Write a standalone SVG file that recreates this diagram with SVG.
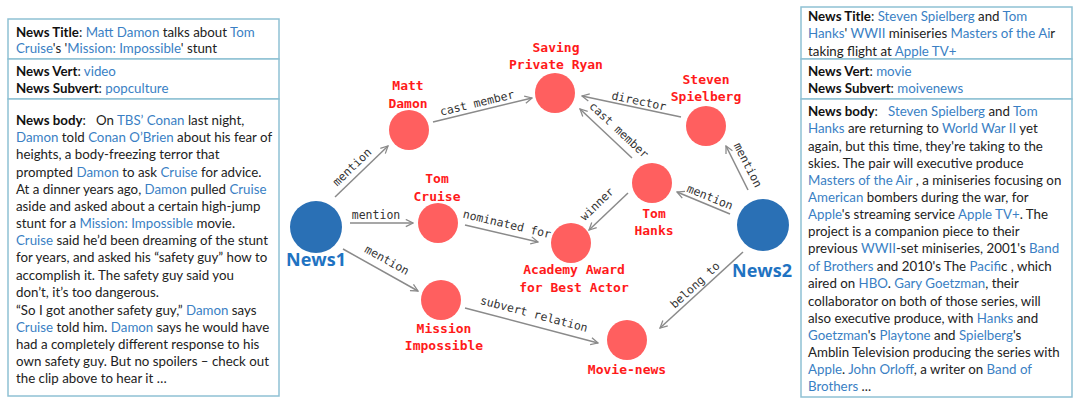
<svg xmlns="http://www.w3.org/2000/svg" width="1080" height="408" viewBox="0 0 1080 408">
<defs>
<style>
.panel{fill:#fff;stroke:#8fc1d4;stroke-width:1.5}
.tx{font-family:Lato,"Open Sans","Liberation Sans",sans-serif;font-size:13.3px;fill:#222}
.b{fill:#3a7fc4}
.k{font-weight:bold;fill:#111}
.edge{stroke:#8a8a8a;stroke-width:1.5;fill:none;marker-end:url(#arr)}
.el{font-family:"DejaVu Sans Mono","Liberation Mono",monospace;font-size:11.5px;fill:#333;text-anchor:middle}
.nl{font-family:"DejaVu Sans Mono","Liberation Mono",monospace;font-size:13px;font-weight:bold;fill:#ff1a1a;text-anchor:middle}
.ent{fill:#ff5f5f}
.news{fill:#2a70b5}
.newsl{font-family:"Open Sans","DejaVu Sans",sans-serif;font-size:18px;font-weight:bold;fill:#1f73c2;text-anchor:middle}
</style>
<marker id="arr" viewBox="0 0 10 10" refX="9" refY="5" markerWidth="9" markerHeight="9" orient="auto" markerUnits="userSpaceOnUse">
<path d="M1,1 L9,5 L1,9" fill="none" stroke="#8a8a8a" stroke-width="1.4"/>
</marker>
</defs>
<rect width="1080" height="408" fill="#fff"/>

<g id="left-panel">
<rect class="panel" x="8" y="19" width="271" height="40"/>
<rect class="panel" x="8" y="59" width="271" height="40"/>
<rect class="panel" x="8" y="99" width="271" height="297"/>
<text class="tx" x="16" y="37"><tspan class="k">News Title</tspan>: <tspan class="b">Matt Damon</tspan> talks about <tspan class="b">Tom</tspan></text>
<text class="tx" x="16" y="53"><tspan class="b">Cruise</tspan>'s '<tspan class="b">Mission: Impossible</tspan>' stunt</text>
<text class="tx" x="16" y="76"><tspan class="k">News Vert</tspan>: <tspan class="b">video</tspan></text>
<text class="tx" x="16" y="93"><tspan class="k">News Subvert</tspan>: <tspan class="b">popculture</tspan></text>
<text class="tx" x="16" y="125"><tspan class="k">News body</tspan>:&#160;&#160;&#160;On <tspan class="b">TBS’ Conan</tspan> last night,</text>
<text class="tx" x="16" y="142"><tspan class="b">Damon</tspan> told <tspan class="b">Conan O’Brien</tspan> about his fear of</text>
<text class="tx" x="16" y="159">heights, a body-freezing terror that</text>
<text class="tx" x="16" y="177">prompted <tspan class="b">Damon</tspan> to ask <tspan class="b">Cruise</tspan> for advice.</text>
<text class="tx" x="16" y="194">At a dinner years ago, <tspan class="b">Damon</tspan> pulled <tspan class="b">Cruise</tspan></text>
<text class="tx" x="16" y="211">aside and asked about a certain high-jump</text>
<text class="tx" x="16" y="228">stunt for a <tspan class="b">Mission: Impossible</tspan> movie.</text>
<text class="tx" x="16" y="245"><tspan class="b">Cruise</tspan> said he’d been dreaming of the stunt</text>
<text class="tx" x="16" y="262">for years, and asked his “safety guy” how to</text>
<text class="tx" x="16" y="280">accomplish it. The safety guy said you</text>
<text class="tx" x="16" y="297">don’t, it’s too dangerous.</text>
<text class="tx" x="16" y="315">“So I got another safety guy,” <tspan class="b">Damon</tspan> says</text>
<text class="tx" x="16" y="332"><tspan class="b">Cruise</tspan> told him. <tspan class="b">Damon</tspan> says he would have</text>
<text class="tx" x="16" y="349">had a completely different response to his</text>
<text class="tx" x="16" y="366">own safety guy. But no spoilers – check out</text>
<text class="tx" x="16" y="383">the clip above to hear it …</text>
</g>

<g id="right-panel">
<rect class="panel" x="801" y="7" width="271" height="52"/>
<rect class="panel" x="801" y="59" width="271" height="40"/>
<rect class="panel" x="801" y="99" width="271" height="298"/>
<text class="tx" x="808" y="21"><tspan class="k">News Title</tspan>: <tspan class="b">Steven Spielberg</tspan> and <tspan class="b">Tom</tspan></text>
<text class="tx" x="808" y="38"><tspan class="b">Hanks</tspan>' <tspan class="b">WWII</tspan> miniseries <tspan class="b">Masters of the Ai</tspan>r</text>
<text class="tx" x="808" y="56">taking flight at <tspan class="b">Apple TV+</tspan></text>
<text class="tx" x="808" y="76"><tspan class="k">News Vert</tspan>: <tspan class="b">movie</tspan></text>
<text class="tx" x="808" y="93"><tspan class="k">News Subvert</tspan>: <tspan class="b">moivenews</tspan></text>
<text class="tx" x="808" y="116"><tspan class="k">News body</tspan>:&#160;&#160;&#160;<tspan class="b">Steven Spielberg</tspan> and <tspan class="b">Tom</tspan></text>
<text class="tx" x="808" y="133"><tspan class="b">Hanks</tspan> are returning to <tspan class="b">World War II</tspan> yet</text>
<text class="tx" x="808" y="151">again, but this time, they're taking to the</text>
<text class="tx" x="808" y="168">skies. The pair will executive produce</text>
<text class="tx" x="808" y="185"><tspan class="b">Masters of the Air</tspan> , a miniseries focusing on</text>
<text class="tx" x="808" y="202"><tspan class="b">American</tspan> bombers during the war, for</text>
<text class="tx" x="808" y="219"><tspan class="b">Apple</tspan>'s streaming service <tspan class="b">Apple TV+</tspan>. The</text>
<text class="tx" x="808" y="236">project is a companion piece to their</text>
<text class="tx" x="808" y="253">previous <tspan class="b">WWII</tspan>-set miniseries, 2001's <tspan class="b">Band</tspan></text>
<text class="tx" x="808" y="271"><tspan class="b">of Brothers</tspan> and 2010's The <tspan class="b">Pacifi</tspan>c , which</text>
<text class="tx" x="808" y="288">aired on <tspan class="b">HBO</tspan>. <tspan class="b">Gary Goetzman</tspan>, their</text>
<text class="tx" x="808" y="306">collaborator on both of those series, will</text>
<text class="tx" x="808" y="323">also executive produce, with <tspan class="b">Hanks</tspan> and</text>
<text class="tx" x="808" y="340"><tspan class="b">Goetzman</tspan>'s <tspan class="b">Playtone</tspan> and <tspan class="b">Spielberg</tspan>'s</text>
<text class="tx" x="808" y="357">Amblin Television producing the series with</text>
<text class="tx" x="808" y="374"><tspan class="b">Apple</tspan>. <tspan class="b">John Orloff</tspan>, a writer on <tspan class="b">Band of</tspan></text>
<text class="tx" x="808" y="391"><tspan class="b">Brothers</tspan> ...</text>
</g>

<g id="connectors">
<line class="edge" x1="335" y1="197" x2="388" y2="146"/>
<line class="edge" x1="350" y1="223" x2="413" y2="223"/>
<line class="edge" x1="343" y1="249" x2="418" y2="291"/>
<line class="edge" x1="433" y1="122" x2="532" y2="98"/>
<line class="edge" x1="465" y1="225" x2="538" y2="242"/>
<line class="edge" x1="465" y1="308" x2="598" y2="343"/>
<line class="edge" x1="632" y1="158" x2="580" y2="109"/>
<line class="edge" x1="681" y1="117" x2="582" y2="96"/>
<line class="edge" x1="628" y1="193" x2="589" y2="230"/>
<line class="edge" x1="730" y1="214" x2="677" y2="192"/>
<line class="edge" x1="748" y1="190" x2="726" y2="146"/>
<line class="edge" x1="743" y1="252" x2="660" y2="328"/>
<text class="el" transform="translate(352,167) rotate(-44)" y="4">mention</text>
<text class="el" transform="translate(376,215)" y="4">mention</text>
<text class="el" transform="translate(387,260) rotate(29)" y="4">mention</text>
<text class="el" transform="translate(477,103) rotate(-13.6)" y="4">cast member</text>
<text class="el" transform="translate(507,224) rotate(13.3)" y="4">nominated for</text>
<text class="el" transform="translate(534,314) rotate(14.7)" y="4">subvert relation</text>
<text class="el" transform="translate(619,130) rotate(43)" y="4">cast member</text>
<text class="el" transform="translate(639,101) rotate(12)" y="4">director</text>
<text class="el" transform="translate(597,204) rotate(-44)" y="4">winner</text>
<text class="el" transform="translate(710,197) rotate(22.5)" y="4">mention</text>
<text class="el" transform="translate(748,165) rotate(63)" y="4">mention</text>
<text class="el" transform="translate(695,285) rotate(-42.5)" y="4">belong to</text>
</g>

<g id="news1">
<circle class="news" cx="316" cy="227" r="26"/>
<text class="newsl" x="316" y="266">News1</text>
</g>
<g id="news2">
<circle class="news" cx="763" cy="225" r="26"/>
<text class="newsl" x="762" y="277">News2</text>
</g>
<g id="matt-damon">
<circle class="ent" cx="409" cy="130" r="20"/>
<text class="nl" x="408" y="89.5">Matt</text>
<text class="nl" x="408" y="107.5">Damon</text>
</g>
<g id="tom-cruise">
<circle class="ent" cx="438" cy="223" r="20"/>
<text class="nl" x="437" y="182.5">Tom</text>
<text class="nl" x="437" y="200.5">Cruise</text>
</g>
<g id="saving-private-ryan">
<circle class="ent" cx="555" cy="93" r="20"/>
<text class="nl" x="556" y="51.5">Saving</text>
<text class="nl" x="556" y="68.5">Private Ryan</text>
</g>
<g id="steven-spielberg">
<circle class="ent" cx="706" cy="126" r="20"/>
<text class="nl" x="706" y="83.5">Steven</text>
<text class="nl" x="706" y="100.5">Spielberg</text>
</g>
<g id="tom-hanks">
<circle class="ent" cx="652" cy="183" r="20"/>
<text class="nl" x="654" y="217.5">Tom</text>
<text class="nl" x="654" y="234.5">Hanks</text>
</g>
<g id="academy-award">
<circle class="ent" cx="571" cy="243" r="20"/>
<text class="nl" x="574" y="273.5">Academy Award</text>
<text class="nl" x="574" y="291.5">for Best Actor</text>
</g>
<g id="mission-impossible">
<circle class="ent" cx="441" cy="300" r="20"/>
<text class="nl" x="444" y="332.5">Mission</text>
<text class="nl" x="444" y="349.5">Impossible</text>
</g>
<g id="movie-news">
<circle class="ent" cx="627" cy="340" r="20"/>
<text class="nl" x="627" y="373.5">Movie-news</text>
</g>
</svg>
